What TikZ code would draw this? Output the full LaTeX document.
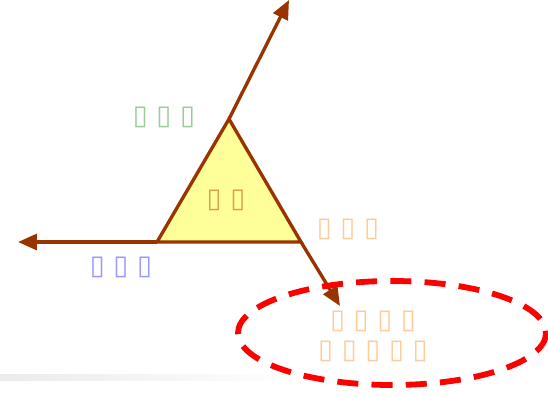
\documentclass[tikz,border=0pt]{standalone}
\usepackage{fontspec}
\newfontfamily\boxfont{DejaVu Sans}
\usetikzlibrary{arrows.meta}
\definecolor{edgebrown}{HTML}{993300}
\definecolor{triyellow}{HTML}{FFFF99}
\definecolor{lblgreen}{HTML}{99CC99}
\definecolor{lblblue}{HTML}{9999FF}
\definecolor{lblorange}{HTML}{FFCC99}
\definecolor{lblgold}{HTML}{D9A050}
\definecolor{ringred}{HTML}{FF0000}
\tikzset{
  side/.style={draw=edgebrown, line width=1.9pt, line join=miter},
  ray/.style={-{Triangle[length=3.8mm, width=3.2mm]}, draw=edgebrown, line width=1.9pt},
  lbl/.style={text=#1, font=\boxfont\fontsize{15.5}{17}\selectfont, inner sep=0pt, align=center},
  ring/.style={draw=ringred, line width=3.3pt, dash pattern=on 12pt off 7.5pt},
}
\begin{document}
\begin{tikzpicture}[x=0.02cm, y=-0.02cm]
  \useasboundingbox (0,0) rectangle (548,396);
  % bottom bar
  \shade[left color=black!8, right color=white] (0,374) rectangle (300,380);
  % triangle
  \coordinate (A) at (229,119);
  \coordinate (B) at (157,242);
  \coordinate (C) at (301,242);
  \filldraw[side, fill=triyellow] (A) -- (B) -- (C) -- cycle;
  \coordinate (tA) at (289,0);
  \coordinate (tB) at (18,242);
  \coordinate (tC) at (340,306);
  \draw[ray] (A) -- (tA);
  \draw[ray] (B) -- (tB);
  \draw[ray] (C) -- (tC);
  % ring
  \draw[ring] (392,333) ellipse [x radius=154, y radius=52];
  % labels
  \node[lbl=lblgreen] (angA) at (164,117) {▯ ▯ ▯};
  \node[lbl=lblgold] (inner) at (226,200) {▯ ▯};
  \node[lbl=lblorange] (angC) at (348,229) {▯ ▯ ▯};
  \node[lbl=lblblue] (angB) at (121,267) {▯ ▯ ▯};
  \node[lbl=lblorange] (note1) at (373,321) {▯ ▯ ▯ ▯};
  \node[lbl=lblorange] (note2) at (373,351) {▯ ▯ ▯ ▯ ▯};
\end{tikzpicture}
\end{document}
